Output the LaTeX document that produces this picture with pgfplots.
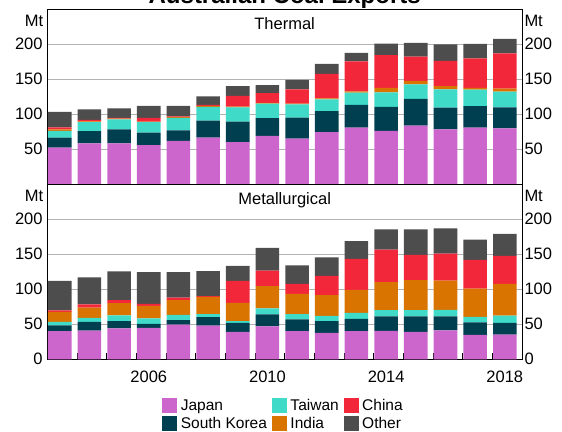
\documentclass[border=0pt]{standalone}
\usepackage{fontspec}
\setmainfont{Liberation Sans}
\usepackage{pgfplots}
\pgfplotsset{compat=1.18}
\usepackage{pgfplotstable}

\definecolor{cJapan}{HTML}{CC66CC}
\definecolor{cKorea}{HTML}{003F50}
\definecolor{cTaiwan}{HTML}{40DBC8}
\definecolor{cIndia}{HTML}{D97400}
\definecolor{cChina}{HTML}{F2283A}
\definecolor{cOther}{HTML}{4D4D4D}

% Thermal coal exports (Mt)
\pgfplotstableread{
year J SK TW IN CN OT
2003 52.5 14.3 9.6 2.1 2.9 22.1
2004 58.5 17.4 12.9 1.2 1.9 15.2
2005 58.5 20.0 14.3 1.0 1.0 13.7
2006 56.1 17.7 15.0 0.8 5.2 17.1
2007 61.9 15.0 18.1 0.8 1.3 14.8
2008 66.6 24.3 19.7 1.4 1.6 12.1
2009 60.4 29.1 20.5 0.8 15.5 14.1
2010 69.0 25.7 20.7 0.8 14.2 11.2
2011 65.2 30.2 18.9 0.9 20.5 13.6
2012 74.7 30.0 16.5 1.6 35.0 14.1
2013 80.9 32.4 17.8 1.8 42.8 11.9
2014 76.4 34.2 20.8 6.2 47.1 16.2
2015 83.8 38.1 20.7 5.0 34.8 19.7
2016 78.5 31.0 26.2 4.7 36.0 23.6
2017 80.9 30.7 23.6 2.6 42.2 20.6
2018 80.0 30.0 22.4 4.4 50.3 20.5
}\thermal

% Metallurgical coal exports (Mt)
\pgfplotstableread{
year J SK TW IN CN OT
2003 40.4 8.2 4.7 14.3 2.2 42.1
2004 40.9 12.4 5.7 14.8 4.6 38.5
2005 44.0 10.7 8.1 17.6 4.3 41.0
2006 45.0 5.6 8.0 17.8 2.6 45.7
2007 49.7 6.4 7.2 21.4 3.3 36.7
2008 48.0 12.4 4.3 24.3 1.4 35.5
2009 39.0 12.9 2.6 26.1 31.3 21.6
2010 46.9 17.4 8.6 31.8 22.1 32.2
2011 40.4 16.7 7.6 28.8 14.1 26.7
2012 37.6 16.9 7.6 29.5 27.4 26.7
2013 40.2 17.4 8.8 32.6 44.3 25.5
2014 40.6 20.6 9.2 40.0 46.2 29.1
2015 39.0 22.2 9.2 42.7 36.2 36.4
2016 41.4 20.0 9.2 41.8 38.5 36.2
2017 35.0 17.6 8.1 40.4 41.0 28.8
2018 35.1 16.8 10.5 45.2 40.0 31.4
}\metall

\newcommand{\lblfont}{\fontsize{16.5bp}{18bp}\selectfont}

\pgfplotsset{
  panelbase/.style={
    scale only axis, width=474.7bp, height=175bp,
    xmin=2002.58, xmax=2018.58, ymin=0, ymax=250,
    axis line style={black, line width=0.8bp},
    major tick length=0pt,
    tick label style={font=\lblfont},
    /pgf/number format/assume math mode=true,
    /pgf/number format/1000 sep={},
    clip=false,
  },
  panel/.style={
    panelbase,
    ybar stacked, bar width=0.795,
    ymajorgrids, grid style={color=black!30, line width=0.8bp},
    yticklabel style={inner sep=0pt, anchor=east, xshift=-4.5bp},
  },
  rightpanel/.style={
    panelbase,
    axis y line*=right, axis x line=none,
    yticklabel style={inner sep=0pt, anchor=west, xshift=2.3bp},
  },
}

\begin{document}
\begin{tikzpicture}
% ---------------- Thermal ----------------
\begin{axis}[panel, at={(47.3bp,247.7bp)}, anchor=south west,
  ytick={50,100,150,200}, xtick=\empty]
  \addplot[fill=cJapan, draw=none] table[x=year,y=J]{\thermal};
  \addplot[fill=cKorea, draw=none] table[x=year,y=SK]{\thermal};
  \addplot[fill=cTaiwan, draw=none] table[x=year,y=TW]{\thermal};
  \addplot[fill=cIndia, draw=none] table[x=year,y=IN]{\thermal};
  \addplot[fill=cChina, draw=none] table[x=year,y=CN]{\thermal};
  \addplot[fill=cOther, draw=none] table[x=year,y=OT]{\thermal};
  \node[anchor=base, font=\lblfont, inner sep=0pt, yshift=-20.7bp] at (rel axis cs:0.5,1) {Thermal};
  \node[anchor=base east, font=\lblfont, inner sep=0pt, xshift=-4bp, yshift=-16.8bp] at (rel axis cs:0,1) {Mt};
  \node[anchor=base west, font=\lblfont, inner sep=0pt, xshift=2.3bp, yshift=-16.8bp] at (rel axis cs:1,1) {Mt};
\end{axis}
\begin{axis}[rightpanel, at={(47.3bp,247.7bp)}, anchor=south west,
  ytick={50,100,150,200}]
\end{axis}

% ---------------- Metallurgical ----------------
\begin{axis}[panel, at={(47.3bp,72.7bp)}, anchor=south west,
  ytick={0,50,100,150,200},
  xtick={2006,2010,2014,2018},
  xticklabel style={anchor=north, inner sep=0pt, yshift=-11.4bp},
  minor xtick={2003.58,2004.58,2005.58,2006.58,2007.58,2008.58,2009.58,2010.58,2011.58,2012.58,2013.58,2014.58,2015.58,2016.58,2017.58},
  minor tick length=6.7bp, tick align=inside, xtick pos=bottom,
  minor tick style={black, line width=0.8bp},
  transpose legend, legend columns=2, legend cell align=left,
  legend image code/.code={\fill[#1] (0bp,-7.5bp) rectangle (15bp,7.5bp);},
  legend style={at={(axis description cs:0.2423,-0.2229)}, anchor=north west,
    draw=none, fill=none, inner sep=0pt, outer sep=0pt,
    font=\fontsize{15.5bp}{17bp}\selectfont,
    nodes={inner sep=0pt}, row sep=3bp,
    /tikz/every odd column/.append style={column sep=3.5bp},
    /tikz/every even column/.append style={column sep=5bp}},
  ]
  \addplot[fill=cJapan, draw=none] table[x=year,y=J]{\metall};
  \addplot[fill=cKorea, draw=none] table[x=year,y=SK]{\metall};
  \addplot[fill=cTaiwan, draw=none] table[x=year,y=TW]{\metall};
  \addplot[fill=cIndia, draw=none] table[x=year,y=IN]{\metall};
  \addplot[fill=cChina, draw=none] table[x=year,y=CN]{\metall};
  \addplot[fill=cOther, draw=none] table[x=year,y=OT]{\metall};
  \legend{Japan, South Korea, Taiwan, India, China, Other}
  \node[anchor=base, font=\lblfont, inner sep=0pt, yshift=-20.7bp] at (rel axis cs:0.5,1) {Metallurgical};
  \node[anchor=base east, font=\lblfont, inner sep=0pt, xshift=-4bp, yshift=-16.8bp] at (rel axis cs:0,1) {Mt};
  \node[anchor=base west, font=\lblfont, inner sep=0pt, xshift=2.3bp, yshift=-16.8bp] at (rel axis cs:1,1) {Mt};
\end{axis}
\begin{axis}[rightpanel, at={(47.3bp,72.7bp)}, anchor=south west,
  ytick={0,50,100,150,200}]
\end{axis}

% title (partly cut off by the top edge, as in the reference)
\node[anchor=base, font=\bfseries\fontsize{24bp}{26bp}\selectfont, inner sep=0pt] at (284.7bp,428.5bp) {Australian Coal Exports};

\pgfresetboundingbox
\useasboundingbox (0,0) rectangle (562bp,432bp);
\end{tikzpicture}
\end{document}
